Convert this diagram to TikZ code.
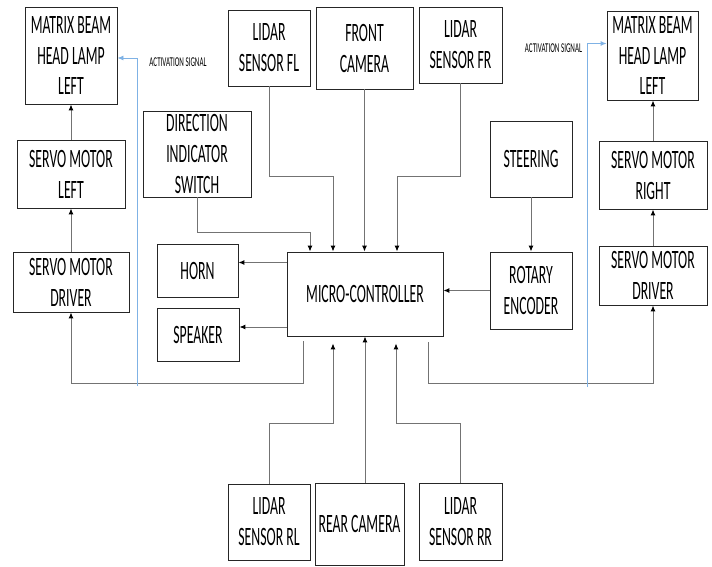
\documentclass[tikz,border=0pt]{standalone}
\usepackage{fontspec}
\setmainfont[FakeStretch=0.52]{Carlito}
\usetikzlibrary{arrows.meta}
\definecolor{sigblue}{HTML}{7FB2E5}

\begin{document}
\begin{tikzpicture}[x=1pt,y=-1pt,
  block/.style={draw=black!85,line width=0.9pt,inner sep=1pt,align=center,font=\fontsize{26.5}{31}\selectfont},
  link/.style={draw=black!55,line width=1pt,-{Latex[color=black,length=6pt,width=5pt]}},
  signal/.style={draw=sigblue,line width=0.9pt,-{Latex[color=sigblue,length=6pt,width=5pt]}},
  tag/.style={font=\fontsize{13.5}{14}\selectfont,inner sep=0pt}]
\fill[white] (0,0) rectangle (712,567);
\useasboundingbox (0,0) rectangle (712,567);
% left column
\node[block,minimum width=92pt,minimum height=97pt] (mbl) at (71,55.5) {MATRIX BEAM\\HEAD LAMP\\LEFT};
\node[block,minimum width=108pt,minimum height=68pt] (sml) at (71,174) {SERVO MOTOR\\LEFT};
\node[block,minimum width=116pt,minimum height=60pt] (sdl) at (71,282) {SERVO MOTOR\\DRIVER};
\node[block,minimum width=108pt,minimum height=86pt] (dis) at (197,154) {DIRECTION\\INDICATOR\\SWITCH};
\node[block,minimum width=81pt,minimum height=53pt] (horn) at (197.5,270.5) {HORN};
\node[block,minimum width=82pt,minimum height=53pt] (spk) at (198,334.5) {SPEAKER};
% centre
\node[block,minimum width=156pt,minimum height=84pt] (mc) at (365,294) {MICRO-CONTROLLER};
\node[block,minimum width=82pt,minimum height=76pt] (lfl) at (269,48) {LIDAR\\SENSOR FL};
\node[block,minimum width=97pt,minimum height=82pt] (fcam) at (364.5,48) {FRONT\\CAMERA};
\node[block,minimum width=83pt,minimum height=76pt] (lfr) at (460.5,45) {LIDAR\\SENSOR FR};
\node[block,minimum width=82pt,minimum height=76pt] (lrl) at (269,522) {LIDAR\\SENSOR RL};
\node[block,minimum width=89pt,minimum height=82pt] (rcam) at (359.5,524) {REAR CAMERA};
\node[block,minimum width=83pt,minimum height=77pt] (lrr) at (460.5,521.5) {LIDAR\\SENSOR RR};
% right column
\node[block,minimum width=82pt,minimum height=76pt] (steer) at (531,159) {STEERING};
\node[block,minimum width=82pt,minimum height=77pt] (enc) at (531,290.5) {ROTARY\\ENCODER};
\node[block,minimum width=91pt,minimum height=89pt] (mbr) at (652.5,55.5) {MATRIX BEAM\\HEAD LAMP\\LEFT};
\node[block,minimum width=108pt,minimum height=68pt] (smr) at (653,175) {SERVO MOTOR\\RIGHT};
\node[block,minimum width=108pt,minimum height=59pt] (sdr) at (653,275.5) {SERVO MOTOR\\DRIVER};
% signal labels
\node[tag] (actl) at (178,62) {ACTIVATION SIGNAL};
\node[tag] (actr) at (553.5,48) {ACTIVATION SIGNAL};
\coordinate (sigl) at (137,386);
\coordinate (sigr) at (587,387);
% inputs to the controller
\draw[link] (dis.south) -- ++(0,35) -| ([xshift=-55pt]mc.north);
\draw[link] (lfl.south) -- ++(0,90) -| ([xshift=-32pt]mc.north);
\draw[link] (fcam.south) -- (fcam.south |- mc.north);
\draw[link] (lfr.south) -- ++(0,93) -| ([xshift=32pt]mc.north);
\draw[link,shorten >=7pt] (lrl.north) -- ++(0,-60) -| ([xshift=-32pt]mc.south);
\draw[link] (rcam.north -| mc.south) -- (mc.south);
\draw[link,shorten >=7pt] (lrr.north) -- ++(0,-59) -| ([xshift=31pt]mc.south);
\draw[link] (steer) -- (enc);
\draw[link] (enc.west) -- (enc.west -| mc.east);
% outputs
\draw[link] ([yshift=8pt]horn.east -| mc.west) -- ([yshift=8pt]horn.east);
\draw[link] ([yshift=7.5pt]spk.east -| mc.west) -- ([yshift=7.5pt]spk.east);
\draw[link,shorten <=5pt] ([xshift=-62pt]mc.south) -- ++(0,47) -| (sdl.south);
\draw[link,shorten <=6pt] ([xshift=63pt]mc.south) -- ++(0,47) -| (sdr.south);
\draw[link] (sdl) -- (sml);
\draw[link] (sml) -- (mbl);
\draw[link] (sdr.north) -- (smr.south);
\draw[link] (smr.north) -- (smr.north |- mbr.south);
% activation signals
\draw[signal] (sigl) |- ([yshift=-2.5pt]mbl.east);
\draw[signal] (sigr) |- ([yshift=12pt]mbr.west);
\end{tikzpicture}
\end{document}
